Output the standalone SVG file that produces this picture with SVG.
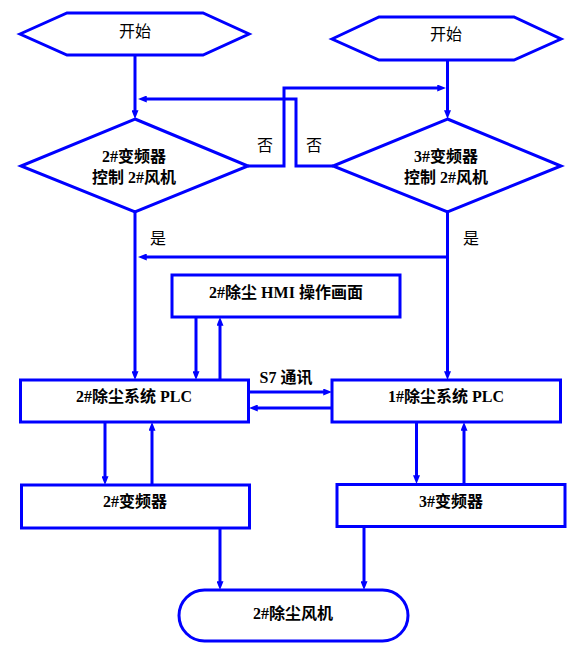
<svg xmlns="http://www.w3.org/2000/svg" width="582" height="651" viewBox="0 0 582 651">
<style>
.s{fill:#fff;stroke:#0000ff;stroke-width:3}
.c{fill:none;stroke:#0000ff;stroke-width:3}
.a{marker-end:url(#ah)}
text{font-family:"Liberation Serif","Noto Sans CJK SC",serif;font-size:16px;fill:#000;text-anchor:middle}
.b{font-weight:bold}
</style>
<defs>
<marker id="ah" viewBox="0 0 10 8" refX="2" refY="4" markerWidth="9" markerHeight="7" markerUnits="userSpaceOnUse" orient="auto">
<path d="M0,0 L10,4 L0,8 z" fill="#0000ff"/>
</marker>
</defs>
<rect width="582" height="651" fill="#fff"/>
<g id="connectors">
<path class="c a" d="M135,55 V112"/>
<path class="c a" d="M447.5,60 V112"/>
<path class="c a" d="M248,166 H284 V88 H439"/>
<path class="c a" d="M333,166 H296 V99 H145"/>
<path class="c a" d="M135,212 V373"/>
<path class="c a" d="M447.5,212 V373"/>
<path class="c a" d="M447.5,257 H145"/>
<path class="c a" d="M196,317 V373"/>
<path class="c a" d="M220,380 V324"/>
<path class="c a" d="M249,392 H325"/>
<path class="c a" d="M332,408 H256"/>
<path class="c a" d="M105,422 V478"/>
<path class="c a" d="M152,485 V429"/>
<path class="c a" d="M416.5,422 V477"/>
<path class="c a" d="M464,484 V429"/>
<path class="c a" d="M220,528 V583"/>
<path class="c a" d="M364,527 V583"/>
</g>
<g id="labels">
<text x="265" y="151">否</text>
<text x="314" y="151">否</text>
<text x="158" y="244">是</text>
<text x="471" y="244">是</text>
<text class="b" x="286" y="383">S7 通讯</text>
</g>
<g id="start1">
<polygon class="s" points="20,34 67,13 203,13 249,34 203,55 67,55"/>
<text x="135" y="37">开始</text>
</g>
<g id="start2">
<polygon class="s" points="332,39 379,17 514,17 561,39 514,60 379,60"/>
<text x="446" y="40">开始</text>
</g>
<g id="decision1">
<polygon class="s" points="135,119 248,166 135,212 21,166"/>
<text class="b" x="134" y="162">2#变频器</text>
<text class="b" x="134" y="183">控制 2#风机</text>
</g>
<g id="decision2">
<polygon class="s" points="447.5,119 561,166 447.5,212 333,166"/>
<text class="b" x="446" y="162">3#变频器</text>
<text class="b" x="446" y="183">控制 2#风机</text>
</g>
<g id="hmi">
<rect class="s" x="172" y="275" width="228" height="42"/>
<text class="b" x="286" y="298">2#除尘 HMI 操作画面</text>
</g>
<g id="plc2">
<rect class="s" x="20.5" y="380" width="228" height="42"/>
<text class="b" x="134" y="402">2#除尘系统 PLC</text>
</g>
<g id="plc1">
<rect class="s" x="332" y="380" width="228.5" height="42"/>
<text class="b" x="446" y="402">1#除尘系统 PLC</text>
</g>
<g id="vfd2">
<rect class="s" x="21.5" y="485" width="228" height="43"/>
<text class="b" x="135" y="507">2#变频器</text>
</g>
<g id="vfd3">
<rect class="s" x="337" y="484.5" width="228" height="42"/>
<text class="b" x="451" y="507">3#变频器</text>
</g>
<g id="fan">
<rect class="s" x="179" y="590" width="229" height="51" rx="25.5"/>
<text class="b" x="293" y="619">2#除尘风机</text>
</g>
</svg>
